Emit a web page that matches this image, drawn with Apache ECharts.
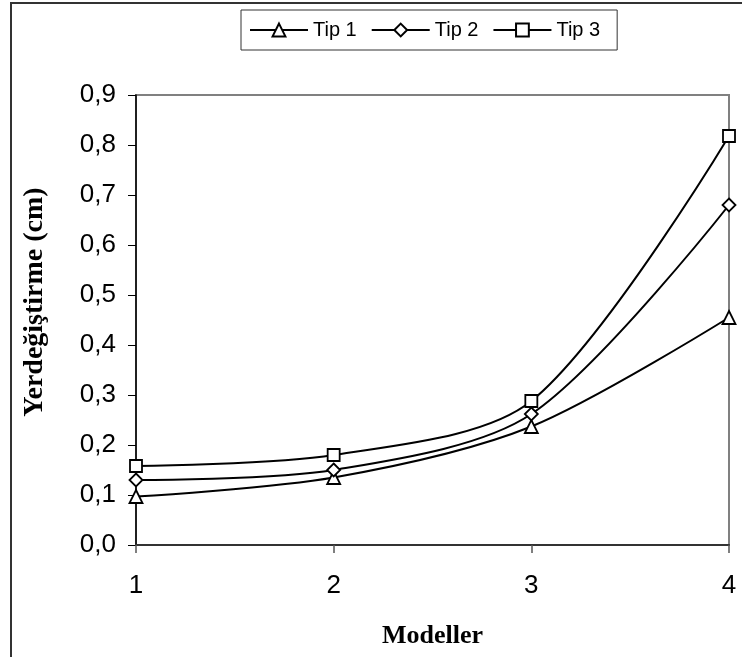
<!DOCTYPE html>
<html>
<head>
<meta charset="utf-8">
<script src="https://cdn.jsdelivr.net/npm/echarts@6/dist/echarts.min.js"></script>
<style>
html,body{margin:0;padding:0;background:#fff;}
#chart{width:742px;height:657px;}
</style>
</head>
<body>
<div id="chart"></div>
<script>
const models = [1, 2, 3, 4];
const tip1 = [0.097, 0.135, 0.237, 0.455];
const tip2 = [0.130, 0.150, 0.262, 0.680];
const tip3 = [0.158, 0.180, 0.288, 0.818];
const seriesNames = ['Tip 1', 'Tip 2', 'Tip 3'];
const yTickLabels = ['0,0','0,1','0,2','0,3','0,4','0,5','0,6','0,7','0,8','0,9'];
const xTickLabels = ['1','2','3','4'];

const chart = echarts.init(document.getElementById('chart'), null, {renderer:'canvas'});
const mk = (arr) => models.map((m, i) => [m, arr[i]]);
const symbols = ['triangle', 'diamond', 'rect'];
const datas = [tip1, tip2, tip3];

chart.setOption({
  animation: false,
  backgroundColor: '#fff',
  graphic: [{
    type: 'rect',
    shape: {x: 11, y: 3, width: 760, height: 700},
    style: {fill: 'none', stroke: '#333', lineWidth: 2},
    silent: true,
    z: -10
  }],
  legend: {
    left: 241, top: 10,
    width: 390,
    itemWidth: 58, itemHeight: 16, itemGap: 14,
    padding: [10, 17, 10, 8],
    borderColor: '#333', borderWidth: 1,
    textStyle: {fontFamily: 'Liberation Sans, Arial', fontSize: 20, color: '#000'},
    data: seriesNames
  },
  grid: {left: 136, right: 13, top: 95, bottom: 112, show: true, borderColor: '#808080', borderWidth: 2},
  xAxis: {
    type: 'value', min: 1, max: 4, interval: 1,
    name: 'Modeller', nameLocation: 'middle', nameGap: 78,
    nameTextStyle: {fontFamily: 'Liberation Serif, Times New Roman', fontWeight: 'bold', fontSize: 26, color: '#000'},
    axisLine: {show: true, lineStyle: {color: '#333', width: 2}},
    axisTick: {show: true, length: 8, lineStyle: {color: '#555', width: 1.5}},
    axisLabel: {fontFamily: 'Liberation Sans, Arial', fontSize: 26, color: '#000', margin: 28,
      formatter: (v) => xTickLabels[Math.round(v) - 1]},
    splitLine: {show: false}
  },
  yAxis: {
    type: 'value', min: 0, max: 0.9, interval: 0.1,
    name: 'Yerdeğiştirme (cm)', nameLocation: 'middle', nameGap: 87, nameRotate: 90,
    nameTextStyle: {fontFamily: 'Liberation Serif, Times New Roman', fontWeight: 'bold', fontSize: 28, color: '#000',
      padding: [0, 0, 0, 36]},
    axisLine: {show: true, onZero: false, lineStyle: {color: '#000', width: 1.5}},
    axisTick: {show: true, length: 8, lineStyle: {color: '#000', width: 1}},
    axisLabel: {fontFamily: 'Liberation Sans, Arial', fontSize: 26, color: '#000', margin: 20,
      formatter: (v) => yTickLabels[Math.round(v * 10)]},
    splitLine: {show: false}
  },
  series: seriesNames.map((n, i) => ({
    name: n,
    type: 'line',
    smooth: 0.3,
    data: mk(datas[i]),
    symbol: symbols[i],
    symbolSize: i === 2 ? 12 : 13,
    showAllSymbol: true,
    lineStyle: {color: '#000', width: 2},
    itemStyle: {color: '#fff', borderColor: '#000', borderWidth: 1.8}
  }))
});
</script>
</body>
</html>
